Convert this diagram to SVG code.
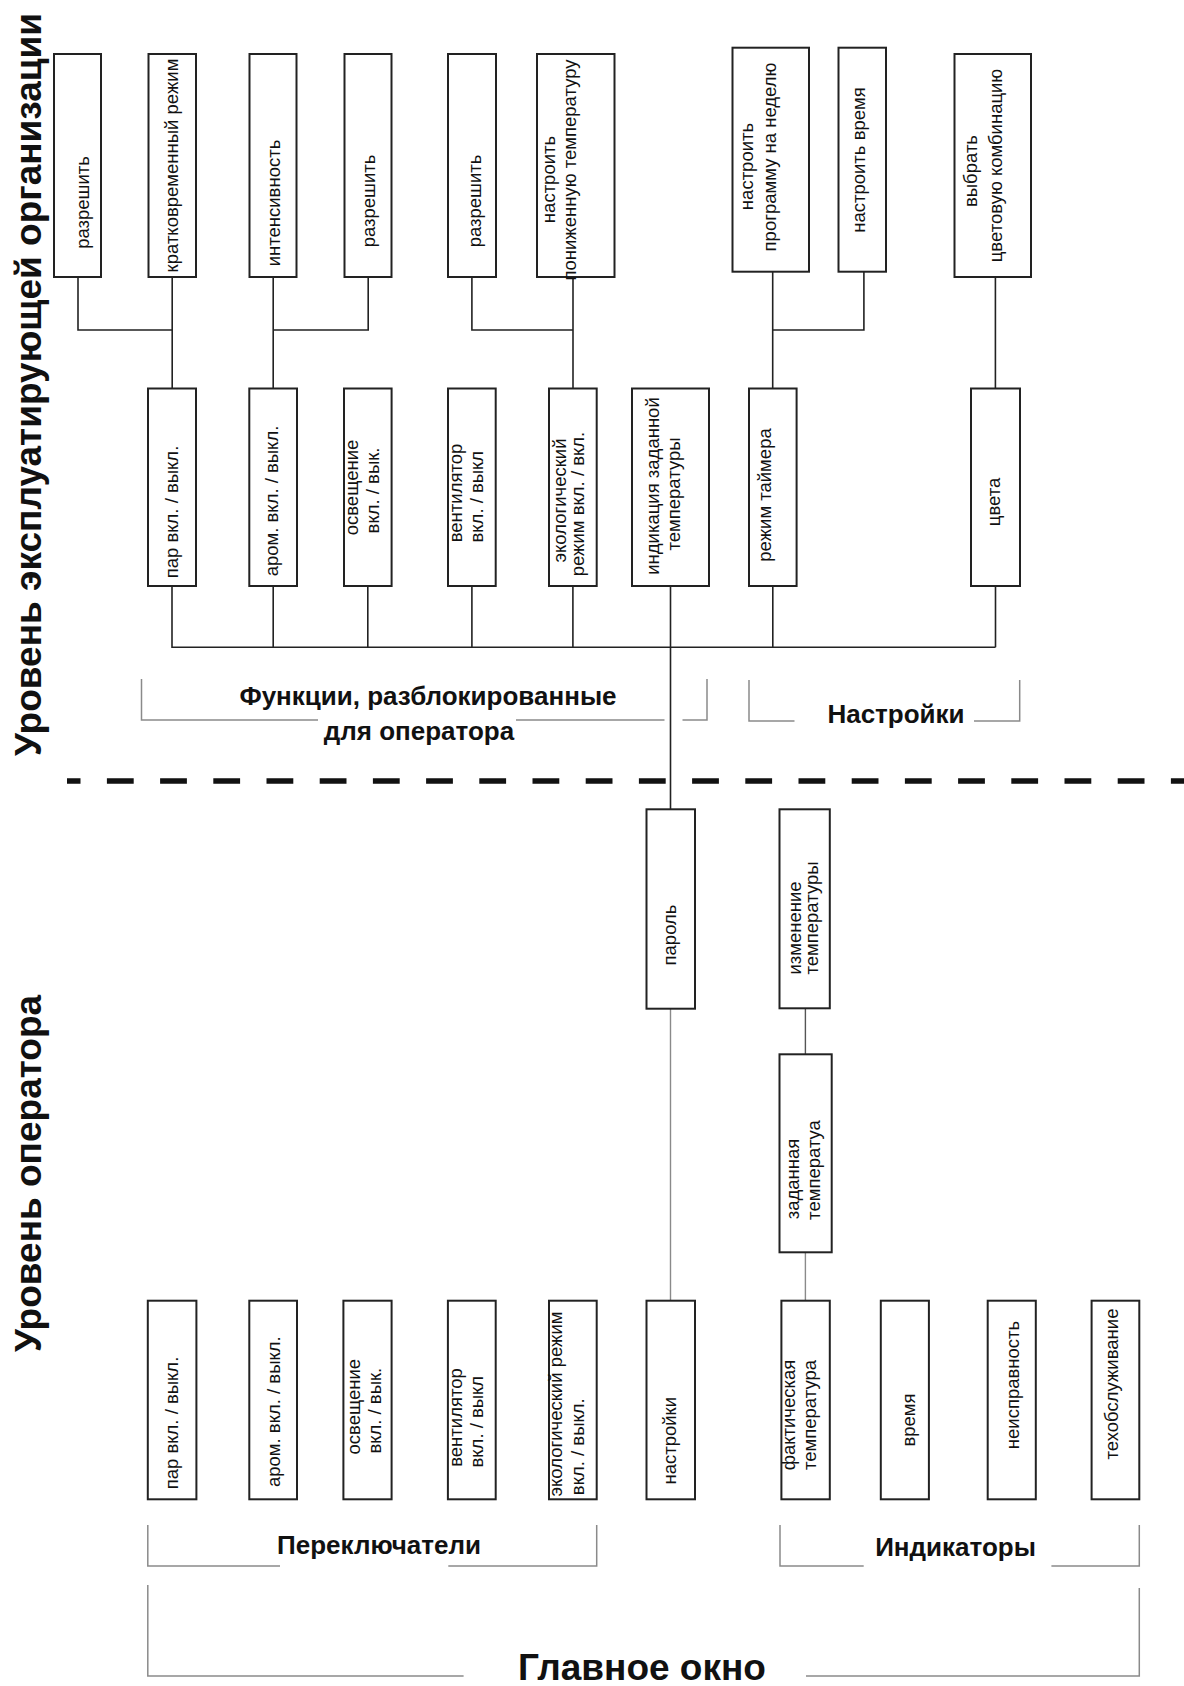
<svg xmlns="http://www.w3.org/2000/svg" width="1184" height="1686" viewBox="0 0 1184 1686">
<style>
.bx{fill:#fff;stroke:#222;stroke-width:2}
.t{font-family:"Liberation Sans",Arial,sans-serif;font-size:18.5px;fill:#111;text-anchor:middle}
.ttl{font-family:"Liberation Sans",Arial,sans-serif;font-size:37px;font-weight:bold;fill:#111}
.lbl{font-family:"Liberation Sans",Arial,sans-serif;font-size:26px;font-weight:bold;fill:#111;text-anchor:middle}
.big{font-family:"Liberation Sans",Arial,sans-serif;font-size:37px;font-weight:bold;fill:#111;text-anchor:middle}
.c{fill:none;stroke:#222;stroke-width:1.6}
.cg{fill:none;stroke:#8a8a8a;stroke-width:1.4}
.cm{fill:none;stroke:#555;stroke-width:1.4}
.br{fill:none;stroke:#8a8a8a;stroke-width:1.5}
.dash{fill:none;stroke:#111;stroke-width:5.5;stroke-dasharray:26.8 26.4;stroke-dashoffset:13.3}
</style>

<g id="titles">
<text class="ttl" transform="rotate(-90)" x="-756" y="41">Уровень эксплуатирующей организации</text>
<text class="ttl" transform="rotate(-90)" x="-1352" y="41">Уровень оператора</text>
</g>

<line id="level-divider" class="dash" x1="67" y1="781" x2="1184" y2="781"/>

<g id="connectors">
<path class="c" d="M78 277V330H172.2M172.2 277V388.5"/>
<path class="c" d="M368.2 277V330H273.2M273.2 277V388.5"/>
<path class="c" d="M471.9 277V330H573M573 277V388.5"/>
<path class="c" d="M863.9 271.7V330H772.7M772.7 271.7V388.5"/>
<path class="c" d="M995.4 277V388.5"/>
<path class="c" d="M172 586V647.3H995.5M273.2 586V647.3M367.8 586V647.3M471.9 586V647.3M572.9 586V647.3M772.8 586V647.3M995.5 586V647.3"/>
<path class="c" d="M670.5 586V809.3"/>
<path class="cg" d="M670.5 1008.7V1300.7"/>
<path class="cm" d="M805.4 1008.3V1054.3"/>
<path class="cg" d="M805.4 1252.3V1300.7"/>
</g>

<g id="brackets">
<path class="br" d="M141.5 679V720H318M516 720H664.5M682.5 720H707V679"/>
<path class="br" d="M749 680V721H794.5M974 721H1019.7V680"/>
<path class="br" d="M147.8 1525V1566H280M448.3 1566H596.7V1525"/>
<path class="br" d="M780 1525V1566H863.7M1051.4 1566H1139.3V1525"/>
<path class="br" d="M147.8 1585V1676H463.6M806 1676H1139.3V1588"/>
<text class="lbl" x="428" y="705">Функции, разблокированные</text>
<text class="lbl" x="419" y="740">для оператора</text>
<text class="lbl" x="896" y="723">Настройки</text>
<text class="lbl" x="379" y="1554">Переключатели</text>
<text class="lbl" x="955.5" y="1556">Индикаторы</text>
<text class="big" x="642" y="1680">Главное окно</text>
</g>

<!-- Row 1 -->
<g id="n-r1-allow1"><rect class="bx" x="54" y="54" width="47" height="223"/>
<text class="t" transform="rotate(-90)"><tspan x="-202.5" y="88.9">разрешить</tspan></text></g>
<g id="n-r1-short"><rect class="bx" x="148.5" y="54" width="47.5" height="223"/>
<text class="t" transform="rotate(-90)"><tspan x="-165.5" y="177.8">кратковременный режим</tspan></text></g>
<g id="n-r1-intensity"><rect class="bx" x="249.5" y="54" width="47" height="223"/>
<text class="t" transform="rotate(-90)"><tspan x="-203" y="280">интенсивность</tspan></text></g>
<g id="n-r1-allow2"><rect class="bx" x="344.5" y="54" width="47" height="223"/>
<text class="t" transform="rotate(-90)"><tspan x="-201" y="375">разрешить</tspan></text></g>
<g id="n-r1-allow3"><rect class="bx" x="448" y="54" width="48" height="223"/>
<text class="t" transform="rotate(-90)"><tspan x="-201" y="480.5">разрешить</tspan></text></g>
<g id="n-r1-lowtemp"><rect class="bx" x="537" y="54" width="77.5" height="223"/>
<text class="t" transform="rotate(-90)"><tspan x="-179.5" y="554.8">настроить</tspan><tspan x="-170" y="576">пониженную температуру</tspan></text></g>
<g id="n-r1-week"><rect class="bx" x="732.5" y="47.7" width="76.5" height="224"/>
<text class="t" transform="rotate(-90)"><tspan x="-166.5" y="753.3">настроить</tspan><tspan x="-157" y="776.4">программу на неделю</tspan></text></g>
<g id="n-r1-time"><rect class="bx" x="838.5" y="47.7" width="47.5" height="224"/>
<text class="t" transform="rotate(-90)"><tspan x="-160" y="865">настроить время</tspan></text></g>
<g id="n-r1-colorcombo"><rect class="bx" x="954.5" y="54" width="76.5" height="223"/>
<text class="t" transform="rotate(-90)"><tspan x="-171" y="976.7">выбрать</tspan><tspan x="-165.5" y="1001.8">цветовую комбинацию</tspan></text></g>

<!-- Row 2 -->
<g id="n-r2-steam"><rect class="bx" x="148" y="388.5" width="48" height="197.5"/>
<text class="t" transform="rotate(-90)"><tspan x="-512" y="178.4">пар вкл. / выкл.</tspan></text></g>
<g id="n-r2-aroma"><rect class="bx" x="249.3" y="388.5" width="47.7" height="197.5"/>
<text class="t" transform="rotate(-90)"><tspan x="-501" y="278">аром. вкл. / выкл.</tspan></text></g>
<g id="n-r2-light"><rect class="bx" x="344" y="388.5" width="47.6" height="197.5"/>
<text class="t" transform="rotate(-90)"><tspan x="-487.5" y="358.3">освещение</tspan><tspan x="-490.5" y="379.3">вкл. / вык.</tspan></text></g>
<g id="n-r2-fan"><rect class="bx" x="448" y="388.5" width="47.7" height="197.5"/>
<text class="t" transform="rotate(-90)"><tspan x="-493" y="461.6">вентилятор</tspan><tspan x="-496.7" y="483">вкл. / выкл</tspan></text></g>
<g id="n-r2-eco"><rect class="bx" x="549" y="388.5" width="47.7" height="197.5"/>
<text class="t" transform="rotate(-90)"><tspan x="-500.5" y="566">экологический</tspan><tspan x="-504" y="584">режим вкл. / вкл.</tspan></text></g>
<g id="n-r2-setpoint"><rect class="bx" x="632" y="388.5" width="77" height="197.5"/>
<text class="t" transform="rotate(-90)"><tspan x="-486" y="658.5">индикация заданной</tspan><tspan x="-494" y="679.5">температуры</tspan></text></g>
<g id="n-r2-timer"><rect class="bx" x="749" y="388.5" width="47.6" height="197.5"/>
<text class="t" transform="rotate(-90)"><tspan x="-495" y="771">режим таймера</tspan></text></g>
<g id="n-r2-colors"><rect class="bx" x="971" y="388.5" width="49" height="197.5"/>
<text class="t" transform="rotate(-90)"><tspan x="-502" y="1000">цвета</tspan></text></g>

<!-- Operator level -->
<g id="n-password"><rect class="bx" x="646.5" y="809.3" width="48.5" height="199.4"/>
<text class="t" transform="rotate(-90)"><tspan x="-935" y="676">пароль</tspan></text></g>
<g id="n-tempchange"><rect class="bx" x="779.5" y="809.3" width="50.3" height="199"/>
<text class="t" transform="rotate(-90)"><tspan x="-928" y="800.5">изменение</tspan><tspan x="-918" y="818">температуры</tspan></text></g>
<g id="n-settemp"><rect class="bx" x="779.5" y="1054.3" width="52.2" height="198"/>
<text class="t" transform="rotate(-90)"><tspan x="-1179" y="799">заданная</tspan><tspan x="-1170" y="819.6">температуа</tspan></text></g>

<!-- Main window -->
<g id="n-m-steam"><rect class="bx" x="147.8" y="1300.7" width="48.6" height="198.6"/>
<text class="t" transform="rotate(-90)"><tspan x="-1423" y="178.4">пар вкл. / выкл.</tspan></text></g>
<g id="n-m-aroma"><rect class="bx" x="249.3" y="1300.7" width="47.7" height="198.6"/>
<text class="t" transform="rotate(-90)"><tspan x="-1411.7" y="280">аром. вкл. / выкл.</tspan></text></g>
<g id="n-m-light"><rect class="bx" x="343.4" y="1300.7" width="48.2" height="198.6"/>
<text class="t" transform="rotate(-90)"><tspan x="-1406.7" y="360">освещение</tspan><tspan x="-1410.7" y="381">вкл. / вык.</tspan></text></g>
<g id="n-m-fan"><rect class="bx" x="447.9" y="1300.7" width="47.8" height="198.6"/>
<text class="t" transform="rotate(-90)"><tspan x="-1417.5" y="461.6">вентилятор</tspan><tspan x="-1421.7" y="483">вкл. / выкл</tspan></text></g>
<g id="n-m-eco"><rect class="bx" x="549" y="1300.7" width="47.7" height="198.6"/>
<text class="t" transform="rotate(-90)"><tspan x="-1404" y="561.5">экологический режим</tspan><tspan x="-1446.7" y="584">вкл. / выкл.</tspan></text></g>
<g id="n-m-settings"><rect class="bx" x="646.5" y="1300.7" width="48.5" height="198.6"/>
<text class="t" transform="rotate(-90)"><tspan x="-1440.8" y="676">настройки</tspan></text></g>
<g id="n-m-actual"><rect class="bx" x="781.4" y="1300.7" width="48.4" height="198.6"/>
<text class="t" transform="rotate(-90)"><tspan x="-1415" y="795">фактическая</tspan><tspan x="-1415" y="816">температура</tspan></text></g>
<g id="n-m-time"><rect class="bx" x="880.8" y="1300.7" width="48.1" height="198.6"/>
<text class="t" transform="rotate(-90)"><tspan x="-1420" y="914.5">время</tspan></text></g>
<g id="n-m-fault"><rect class="bx" x="987.7" y="1300.7" width="48.1" height="198.6"/>
<text class="t" transform="rotate(-90)"><tspan x="-1385" y="1019">неисправность</tspan></text></g>
<g id="n-m-service"><rect class="bx" x="1091.6" y="1300.7" width="47.7" height="198.6"/>
<text class="t" transform="rotate(-90)"><tspan x="-1384" y="1117.5">техобслуживание</tspan></text></g>
</svg>
